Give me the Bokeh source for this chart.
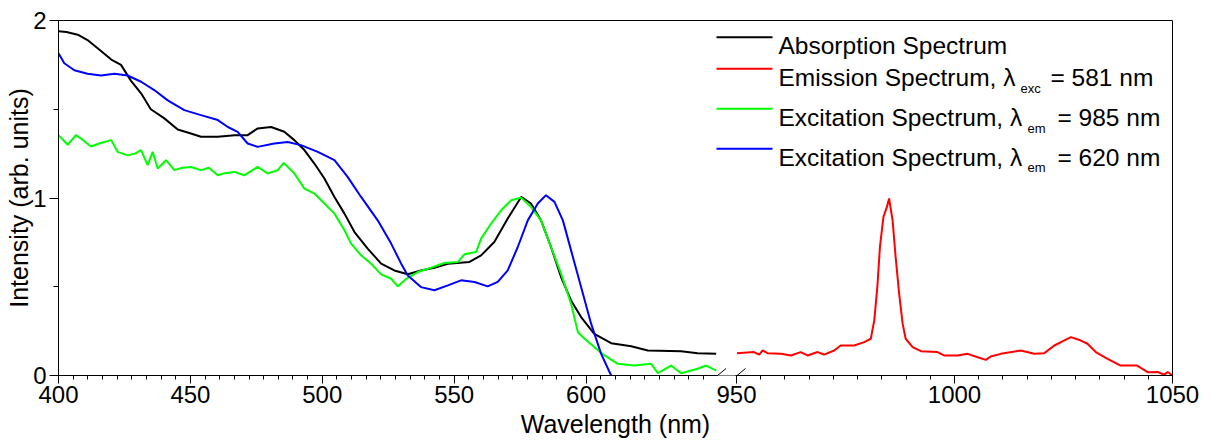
from bokeh.plotting import figure
from bokeh.models import Range1d, FixedTicker, CustomJSTickFormatter, Label, Arrow
from bokeh.embed import file_html
from bokeh.resources import INLINE

# ---------------- data ----------------
abs_nm = [400, 403, 407.3, 411, 416, 420, 423.7, 427.5, 431.3, 435, 440, 445.2, 450.2, 454, 460.4,
          466.7, 471.7, 475.5, 480.6, 485.6, 489.4, 493.2, 497, 500.8, 504.6, 508.4, 512.2, 517.2,
          522.3, 527.3, 532.4, 537.4, 542.5, 547.6, 555.8, 560.2, 565.2, 570.3, 575.4, 579.1, 582.9,
          586.7, 590.5, 594.3, 598.1, 603.1, 609.5, 617.1, 623.4, 636, 642.3, 649.3]
abs_val = [1.94, 1.935, 1.92, 1.89, 1.83, 1.78, 1.75, 1.66, 1.59, 1.50, 1.45, 1.386, 1.363, 1.345, 1.345,
           1.354, 1.354, 1.392, 1.40, 1.373, 1.326, 1.27, 1.194, 1.11, 1.006, 0.912, 0.808, 0.715,
           0.63, 0.592, 0.570, 0.592, 0.607, 0.63, 0.64, 0.677, 0.752, 0.884, 1.006, 0.969, 0.874,
           0.724, 0.555, 0.423, 0.329, 0.235, 0.182, 0.165, 0.141, 0.137, 0.126, 0.122]

exc985_nm = [400, 403.5, 406.6, 409, 412.3, 416, 420, 422.4, 426.2, 429, 431.3, 433.8, 435.7, 437.6,
             440.8, 443.9, 447, 450.2, 454, 457, 460.4, 463, 466.7, 470.4, 475.5, 479.3, 483.1, 485.4,
             489.4, 493.2, 497, 500.8, 504.6, 508.4, 510.9, 514.7, 518.5, 522.3, 526.1, 528.6, 531.8,
             536.2, 541.2, 546.3, 551.4, 553.9, 558.3, 560.2, 564, 567.8, 571.6, 575.4, 579.1, 582.9,
             586.7, 590.5, 594.3, 596.9, 599.4, 603.1, 607, 612, 618.3, 624.6, 627.2, 632.2, 636,
             642.3, 645.5, 649.3]
exc985_val = [1.354, 1.30, 1.354, 1.33, 1.29, 1.31, 1.326, 1.26, 1.24, 1.25, 1.27, 1.185, 1.26, 1.166,
              1.213, 1.157, 1.17, 1.175, 1.157, 1.17, 1.128, 1.14, 1.147, 1.128, 1.175, 1.138, 1.157, 1.198,
              1.138, 1.053, 1.025, 0.969, 0.912, 0.818, 0.743, 0.677, 0.63, 0.570, 0.545, 0.502, 0.545,
              0.583, 0.607, 0.634, 0.64, 0.683, 0.696, 0.771, 0.856, 0.931, 0.987, 1.002, 0.95, 0.874,
              0.724, 0.574, 0.404, 0.244, 0.207, 0.16, 0.113, 0.066, 0.056, 0.066, 0.013, 0.056, 0.013,
              0.038, 0.056, 0.028]

exc620_nm = [400, 402.2, 406, 411, 416.1, 421.2, 426.2, 431.3, 436.3, 441.4, 447.7, 454, 460.4, 464.2,
             467.9, 471.7, 475.5, 481.8, 486.9, 491.9, 498.3, 504.6, 509.6, 514.7, 521, 526.1, 529.9,
             532.4, 537.4, 542.5, 547.6, 552.6, 557.7, 562.7, 566.5, 570.3, 574.1, 577.9, 581.7, 584.8,
             588, 591.2, 594.3, 598.1, 601.9, 605.7, 609.5]
exc620_val = [1.815, 1.759, 1.72, 1.70, 1.69, 1.70, 1.69, 1.655, 1.608, 1.55, 1.495, 1.467, 1.439, 1.40,
              1.373, 1.307, 1.288, 1.307, 1.316, 1.298, 1.26, 1.213, 1.119, 1.006, 0.874, 0.743, 0.63,
              0.564, 0.498, 0.48, 0.508, 0.536, 0.527, 0.502, 0.527, 0.592, 0.724, 0.874, 0.969, 1.016,
              0.978, 0.874, 0.705, 0.498, 0.292, 0.122, 0.0]

em_nm = [950.1, 954, 955.2, 956, 957.1, 960.2, 962.5, 964.7, 966.3, 968.6, 970.1, 972.4, 973.9, 977,
         979.3, 980.8, 981.6, 982.3, 982.9, 983.7, 984.5, 985, 985.8, 986.5, 987.3, 988.1, 988.8,
         990.4, 992.3, 996.1, 997.6, 1000.7, 1003, 1005.3, 1007.2, 1008.3, 1010.6, 1015.2, 1018.3,
         1020.6, 1022.9, 1025.1, 1026.7, 1029, 1030.5, 1032.4, 1035.1, 1038.1, 1041.9, 1044.3, 1046.6,
         1048.1, 1048.9, 1050]
em_val = [0.126, 0.132, 0.118, 0.141, 0.126, 0.122, 0.113, 0.132, 0.113, 0.132, 0.118, 0.141, 0.169, 0.169,
          0.188, 0.207, 0.31, 0.498, 0.724, 0.893, 0.95, 0.997, 0.874, 0.667, 0.461, 0.292, 0.207,
          0.16, 0.137, 0.132, 0.113, 0.113, 0.122, 0.103, 0.088, 0.107, 0.122, 0.141, 0.122,
          0.126, 0.169, 0.197, 0.216, 0.197, 0.179, 0.132, 0.094, 0.056, 0.056, 0.019, 0.02,
          0.005, 0.02, 0.0]

left_ticks = [400, 450, 500, 550, 600]
right_ticks = [950, 1000, 1050]
y_ticks = [0, 1, 2]
y_minor = [0.5, 1.5]

legend_labels = ["Absorption Spectrum", "Emission Spectrum, \u03bb", "Excitation Spectrum, \u03bb",
                 "Excitation Spectrum, \u03bb"]
legend_subs = [None, "exc", "em", "em"]
legend_tails = [None, "= 581 nm", "= 985 nm", "= 620 nm"]
colors = ["#000000", "#FF0000", "#00FF00", "#0000FF"]

# ---------------- layout ----------------
W, H = 1210, 442
BL, BR, BT, BB = 58, 38, 20, 67
FW = W - BL - BR            # frame width in px
LEFT_SEG = (400, 650)
RIGHT_SEG = (950, 1050)
LEFT_PX = 659.5             # pixels for 400-650
RIGHT_PX = 436.0            # pixels for 950-1050

x0 = LEFT_SEG[0]
x1 = x0 + FW * (LEFT_SEG[1] - LEFT_SEG[0]) / LEFT_PX
e1 = RIGHT_SEG[1]
e0 = e1 - FW * (RIGHT_SEG[1] - RIGHT_SEG[0]) / RIGHT_PX


def to_main(w):
    return x0 + (w - e0) / (e1 - e0) * (x1 - x0)


p = figure(width=W, height=H, x_range=Range1d(x0, x1), y_range=Range1d(0, 2),
           output_backend="svg", toolbar_location=None,
           min_border_left=BL, min_border_right=BR, min_border_top=BT, min_border_bottom=BB)
p.extra_x_ranges = {"em": Range1d(e0, e1)}
p.xgrid.visible = False
p.ygrid.visible = False
p.outline_line_color = "black"
p.outline_line_width = 1
p.outline_line_alpha = 1
p.background_fill_color = "white"
p.border_fill_color = "white"

step = 50 / 9
left_minor = [LEFT_SEG[0] + step * i for i in range(int((LEFT_SEG[1] - LEFT_SEG[0]) / step) + 1)]
left_minor = [m for m in left_minor if m < LEFT_SEG[1] - 1]
right_minor = [to_main(RIGHT_SEG[0] + step * i) for i in range(int(100 / step) + 1)]
x_major = left_ticks + [to_main(t) for t in right_ticks]
split = (left_ticks[-1] + to_main(right_ticks[0])) / 2

p.xaxis.ticker = FixedTicker(ticks=x_major, minor_ticks=left_minor + right_minor)
p.xaxis.formatter = CustomJSTickFormatter(
    args=dict(x0=x0, x1=x1, e0=e0, e1=e1, lim=split),
    code="""
    if (tick > lim) {
        const w = e0 + (tick - x0) / (x1 - x0) * (e1 - e0);
        return Math.round(w).toString();
    }
    return Math.round(tick).toString();
    """)
p.yaxis.ticker = FixedTicker(ticks=y_ticks, minor_ticks=y_minor)

font = "Liberation Sans"
for ax in (p.xaxis[0], p.yaxis[0]):
    ax.axis_line_color = "black"
    ax.major_tick_line_color = "black"
    ax.minor_tick_line_color = "black"
    ax.major_tick_in = 0
    ax.minor_tick_in = 0
    ax.major_label_text_font = font
    ax.major_label_text_font_size = "24px"
    ax.major_label_text_color = "black"
    ax.axis_label_text_font = font
    ax.axis_label_text_font_size = "25px"
    ax.axis_label_text_font_style = "normal"
    ax.axis_label_text_color = "black"

p.xaxis.major_tick_out = 8
p.xaxis.minor_tick_out = 4
p.xaxis.major_label_standoff = 2
p.xaxis.axis_label_standoff = 4
p.xaxis.axis_label = "Wavelength (nm)"
p.yaxis.major_tick_out = 9
p.yaxis.minor_tick_out = 5
p.yaxis.major_label_standoff = 3
p.yaxis.axis_label_standoff = -3
p.yaxis.axis_label = "Intensity (arb. units)"

# ---------------- curves ----------------
p.line(abs_nm, abs_val, line_color=colors[0], line_width=2)
p.line(exc985_nm, exc985_val, line_color=colors[2], line_width=2)
p.line(exc620_nm, exc620_val, line_color=colors[3], line_width=2)
p.line(em_nm, em_val, line_color=colors[1], line_width=2, x_range_name="em")

# ---------------- axis break ----------------
gap_l = (LEFT_SEG[1] - x0) / (x1 - x0) * FW - 1
gap_r = (to_main(RIGHT_SEG[0]) - x0) / (x1 - x0) * FW
p.add_layout(Arrow(end=None, x_start=gap_l + 1, y_start=0, x_end=gap_r - 1, y_end=0,
                   start_units="screen", end_units="screen", line_color="white", line_width=4))
for cx in (gap_l, gap_r):
    p.add_layout(Arrow(end=None, x_start=cx - 9, y_start=-8, x_end=cx + 9, y_end=7,
                       start_units="screen", end_units="screen", line_color="black", line_width=1))

# ---------------- legend ----------------
FB = H - BB  # frame bottom in canvas px
line_y = [36.7, 68.3, 108.3, 148.3]
base_y = [45, 77.3, 117.3, 156.7]
sub_x = [None, 1020, 1027, 1027]
tail_x = [None, 1050, 1057, 1057]
for i in range(4):
    p.add_layout(Arrow(end=None, x_start=716 - BL, y_start=FB - line_y[i], x_end=772 - BL,
                       y_end=FB - line_y[i], start_units="screen", end_units="screen",
                       line_color=colors[i], line_width=2))
    p.add_layout(Label(x=778 - BL, y=FB - base_y[i], x_units="screen", y_units="screen",
                       text=legend_labels[i], text_font=font, text_font_size="24.5px",
                       text_baseline="alphabetic", text_align="left", text_color="black"))
    if legend_subs[i]:
        p.add_layout(Label(x=sub_x[i] - BL, y=FB - base_y[i] - 10.5, x_units="screen", y_units="screen",
                           text=legend_subs[i], text_font=font, text_font_size="13px",
                           text_baseline="alphabetic", text_align="left", text_color="black"))
        p.add_layout(Label(x=tail_x[i] - BL, y=FB - base_y[i], x_units="screen", y_units="screen",
                           text=legend_tails[i], text_font=font, text_font_size="24.5px",
                           text_baseline="alphabetic", text_align="left", text_color="black"))

open("out.html", "w").write(file_html(p, INLINE))
